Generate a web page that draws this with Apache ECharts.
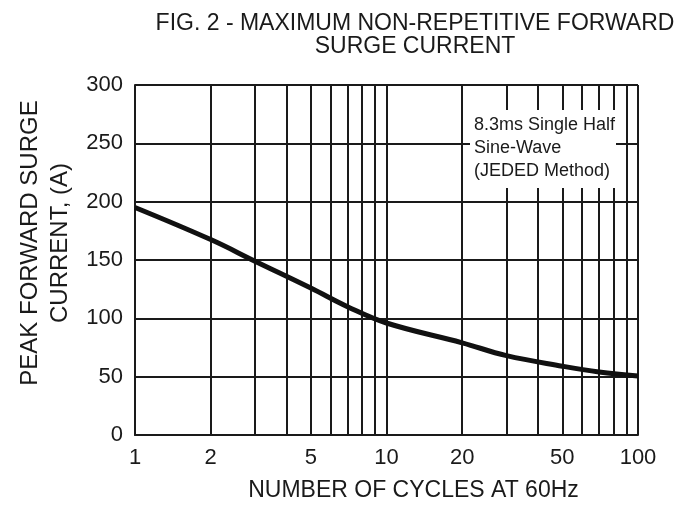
<!DOCTYPE html>
<html>
<head>
<meta charset="utf-8">
<script src="https://cdn.jsdelivr.net/npm/echarts@6/dist/echarts.min.js"></script>
<style>
  html, body { margin: 0; padding: 0; background: #fff; }
  #chart { width: 695px; height: 507px; }
</style>
</head>
<body>
<div id="chart"></div>
<script>
// 数据：循环次数 / 峰值浪涌电流
const cycles = [1, 2, 3, 5, 7, 10, 20, 30, 50, 70, 100];
const current = [195, 167.5, 149, 126, 110, 96, 79, 68, 59, 54, 50.5];
// 对数网格线（次刻度）
const gridX = [2, 3, 4, 5, 6, 7, 8, 9, 20, 30, 40, 50, 60, 70, 80, 90];
const xLabels = [1, 2, 5, 10, 20, 50, 100];

const font = "'Liberation Sans', Arial, sans-serif";
const ink = '#1a1a1a';

const myChart = echarts.init(document.getElementById('chart'));

const option = {
  backgroundColor: '#fff',
  animation: false,
  title: {
    text: 'FIG. 2 - MAXIMUM NON-REPETITIVE FORWARD\nSURGE CURRENT',
    left: 410,
    top: 7,
    textAlign: 'center',
    textStyle: {
      fontFamily: font,
      fontSize: 23,
      fontWeight: 'normal',
      color: ink,
      lineHeight: 23,
    },
  },
  grid: {
    left: 135,
    right: 57,
    top: 85,
    bottom: 67,
  },
  xAxis: {
    type: 'log',
    logBase: 10,
    min: 1,
    max: 100,
    name: 'NUMBER OF CYCLES AT 60Hz',
    nameLocation: 'middle',
    nameGap: 44,
    nameTextStyle: {
      fontFamily: font,
      fontSize: 23,
      color: ink,
      padding: [0, 0, 0, 54],
    },
    axisLine: { show: true, lineStyle: { color: ink, width: 2 } },
    axisTick: { show: false },
    axisLabel: {
      customValues: xLabels,
      fontFamily: font,
      fontSize: 22,
      color: ink,
      margin: 12,
    },
    splitLine: { show: true, lineStyle: { color: ink, width: 2 } },
  },
  yAxis: {
    type: 'value',
    min: 0,
    max: 300,
    interval: 50,
    name: 'PEAK FORWARD SURGE\nCURRENT, (A)',
    nameLocation: 'middle',
    nameGap: 58,
    nameTextStyle: {
      fontFamily: font,
      fontSize: 24,
      color: ink,
      lineHeight: 30,
      padding: [0, 0, 0, 34],
    },
    axisLine: { show: true, lineStyle: { color: ink, width: 2 } },
    axisTick: { show: false },
    axisLabel: {
      fontFamily: font,
      fontSize: 22,
      color: ink,
      margin: 12,
    },
    splitLine: { show: true, lineStyle: { color: ink, width: 2 } },
  },
  series: [
    {
      type: 'line',
      data: cycles.map((c, i) => [c, current[i]]),
      smooth: 0.4,
      showSymbol: false,
      z: 5,
      lineStyle: { color: '#111', width: 5 },
      markLine: {
        silent: true,
        symbol: 'none',
        label: { show: false },
        lineStyle: { color: ink, width: 2, type: 'solid' },
        data: gridX.map(v => ({ xAxis: v })),
      },
    },
  ],
  graphic: [
    {
      type: 'rect',
      z: 100,
      shape: { x: 470, y: 110, width: 146, height: 78 },
      style: { fill: '#fff' },
    },
    {
      type: 'text',
      z: 101,
      left: 474,
      top: 114,
      style: {
        text: '8.3ms Single Half\nSine-Wave\n(JEDED Method)',
        font: "18px 'Liberation Sans', Arial, sans-serif",
        fill: ink,
        lineHeight: 23,
      },
    },
  ],
};

myChart.setOption(option);
window.addEventListener('resize', () => myChart.resize());
</script>
</body>
</html>
